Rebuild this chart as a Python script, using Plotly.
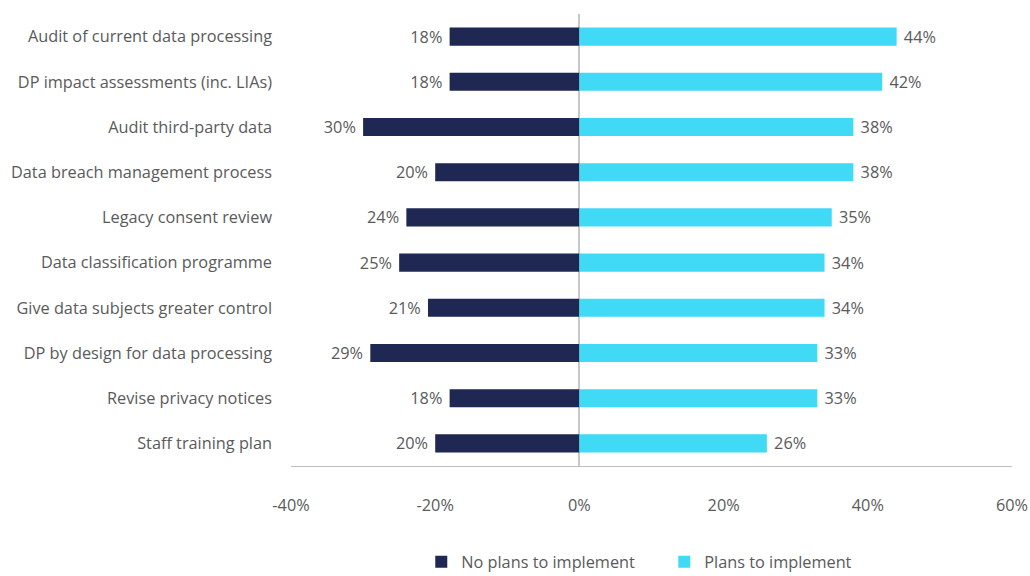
import plotly.graph_objects as go

# Survey items, top to bottom
categories = [
    "Audit of current data processing",
    "DP impact assessments (inc. LIAs)",
    "Audit third-party data",
    "Data breach management process",
    "Legacy consent review",
    "Data classification programme",
    "Give data subjects greater control",
    "DP by design for data processing",
    "Revise privacy notices",
    "Staff training plan",
]
no_plans = [18, 18, 30, 20, 24, 25, 21, 29, 18, 20]
plans = [44, 42, 38, 38, 35, 34, 34, 33, 33, 26]
tick_values = [-40, -20, 0, 20, 40, 60]
tick_labels = ["-40%", "-20%", "0%", "20%", "40%", "60%"]

NAVY = "#1f2753"
CYAN = "#40daf6"
TEXT = "#5a5a5a"
FONT = "Open Sans, Roboto, sans-serif"
SIZE = 16.3
NBSP = "\u00a0"

fig = go.Figure()
fig.add_trace(go.Bar(
    y=categories,
    x=[-v for v in no_plans],
    orientation="h",
    name="No plans to implement",
    marker=dict(color=NAVY, line=dict(width=0)),
    text=[f"{v}%{NBSP}" for v in no_plans],
    textposition="outside",
    textfont=dict(size=SIZE, color=TEXT, family=FONT),
    cliponaxis=False,
    width=0.4,
    hoverinfo="skip",
))
fig.add_trace(go.Bar(
    y=categories,
    x=plans,
    orientation="h",
    name="Plans to implement",
    marker=dict(color=CYAN, line=dict(width=0)),
    text=[f"{NBSP}{v}%" for v in plans],
    textposition="outside",
    textfont=dict(size=SIZE, color=TEXT, family=FONT),
    cliponaxis=False,
    width=0.4,
    hoverinfo="skip",
))

fig.update_layout(
    width=1030,
    height=576,
    margin=dict(l=291, r=18, t=14, b=110),
    paper_bgcolor="white",
    plot_bgcolor="white",
    barmode="relative",
    bargap=0.6,
    font=dict(family=FONT, size=SIZE, color=TEXT),
    uniformtext=dict(minsize=SIZE, mode="show"),
    showlegend=True,
    legend=dict(
        orientation="h",
        xref="container",
        yref="container",
        x=0.409,
        xanchor="left",
        y=0.024,
        yanchor="middle",
        font=dict(size=SIZE, color=TEXT, family=FONT),
        itemwidth=30,
        entrywidth=198,
        entrywidthmode="pixels",
        traceorder="normal",
        bgcolor="rgba(0,0,0,0)",
    ),
    xaxis=dict(
        range=[-40, 60],
        tickvals=tick_values,
        ticktext=tick_labels,
        showgrid=False,
        zeroline=True,
        zerolinecolor="#c8c8c8",
        zerolinewidth=1.5,
        showline=True,
        linecolor="#bfbfbf",
        linewidth=1.2,
        ticks="",
        ticklabelstandoff=24,
        tickfont=dict(size=SIZE, color=TEXT, family=FONT),
        automargin=False,
        fixedrange=True,
    ),
    yaxis=dict(
        categoryorder="array",
        categoryarray=categories,
        autorange="reversed",
        showgrid=False,
        zeroline=False,
        showline=False,
        ticks="",
        ticklabelstandoff=18,
        tickfont=dict(size=SIZE, color=TEXT, family=FONT),
        automargin=False,
        fixedrange=True,
    ),
)

fig.write_html("out.html")
